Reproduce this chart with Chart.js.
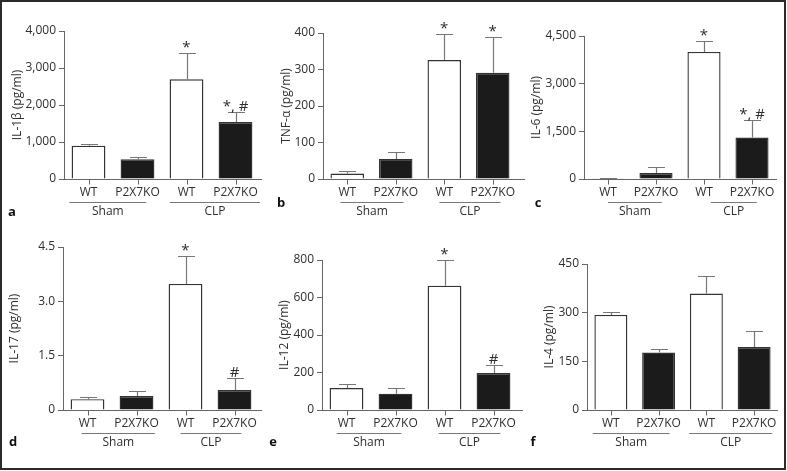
<!DOCTYPE html>
<html>
<head>
<meta charset="utf-8">
<script src="https://cdn.jsdelivr.net/npm/chart.js@4.4.1/dist/chart.umd.min.js"></script>
<style>
  body { margin: 0; background: #fff; }
  #fig { position: relative; width: 787px; height: 471px; }
  #fig canvas { position: absolute; left: 0; top: 0; }
  #frame { position: absolute; left: 0; top: 0; width: 786px; height: 470px; border: 2px solid #2b2b2b; box-sizing: border-box; }
</style>
</head>
<body>
<div id="fig">
  <canvas id="pa" width="787" height="471"></canvas>
  <canvas id="pb" width="787" height="471"></canvas>
  <canvas id="pc" width="787" height="471"></canvas>
  <canvas id="pd" width="787" height="471"></canvas>
  <canvas id="pe" width="787" height="471"></canvas>
  <canvas id="pf" width="787" height="471"></canvas>
  <div id="frame"></div>
</div>
<script>
// categories and groups (same in every panel)
const categories = ['WT', 'P2X7KO', 'WT', 'P2X7KO'];
const groups = ['Sham', 'CLP'];

// a: IL-1β
const il1bMean = [900, 532, 2695, 1540];
const il1bSem = [46, 71, 720, 262];
const il1bSig = ['', '', '*', '*, #'];
const il1bTicks = ['0', '1,000', '2,000', '3,000', '4,000'];

// b: TNF-α
const tnfMean = [15, 55, 326, 291];
const tnfSem = [8, 20, 72, 99];
const tnfSig = ['', '', '*', '*'];
const tnfTicks = ['0', '100', '200', '300', '400'];

// c: IL-6
const il6Mean = [20, 188, 4000, 1304];
const il6Sem = [8, 175, 357, 554];
const il6Sig = ['', '', '*', '*, #'];
const il6Ticks = ['0', '1,500', '3,000', '4,500'];

// d: IL-17
const il17Mean = [0.30, 0.385, 3.48, 0.55];
const il17Sem = [0.057, 0.135, 0.77, 0.32];
const il17Sig = ['', '', '*', '#'];
const il17Ticks = ['0', '1.5', '3.0', '4.5'];

// e: IL-12
const il12Mean = [117, 87, 663, 197];
const il12Sem = [21, 28, 137, 42];
const il12Sig = ['', '', '*', '#'];
const il12Ticks = ['0', '200', '400', '600', '800'];

// f: IL-4
const il4Mean = [293, 177, 359, 194];
const il4Sem = [9, 12, 54, 49];
const il4Sig = ['', '', '', ''];
const il4Ticks = ['0', '150', '300', '450'];

const FONT = '"Open Sans", "DejaVu Sans", sans-serif';
const TXT = '#2e2e2e';
const AXIS = '#666';
const Y_W = 40;

const deco = {
  id: 'deco',
  afterDraw(chart, args, o) {
    const ctx = chart.ctx, a = chart.chartArea, y = chart.scales.y;
    const meta = chart.getDatasetMeta(0);
    const base = Math.round(a.bottom) + 0.5;
    ctx.save();
    // x axis line
    ctx.strokeStyle = AXIS; ctx.lineWidth = 1;
    ctx.beginPath();
    ctx.moveTo(a.left, base);
    ctx.lineTo(o.axisEnd, base);
    ctx.stroke();
    const step = meta.data.length > 1 ? meta.data[1].x - meta.data[0].x : 48;
    meta.data.forEach((bar, i) => {
      // tick below axis
      const bx = Math.round(bar.x) + 0.5;
      ctx.strokeStyle = AXIS; ctx.lineWidth = 1;
      ctx.beginPath(); ctx.moveTo(bx, base); ctx.lineTo(bx, base + 5); ctx.stroke();
      // error bar (upper only)
      const yBar = y.getPixelForValue(o.mean[i]);
      const yTop = Math.round(y.getPixelForValue(o.mean[i] + o.sem[i])) + 0.5;
      ctx.strokeStyle = '#777'; ctx.lineWidth = 1.2;
      ctx.beginPath();
      ctx.moveTo(bx, yBar); ctx.lineTo(bx, yTop);
      ctx.moveTo(bx - 8.5, yTop); ctx.lineTo(bx + 8.5, yTop);
      ctx.stroke();
      // significance marks
      if (o.sig[i]) {
        ctx.fillStyle = TXT; ctx.font = '15px ' + FONT;
        ctx.textAlign = 'center'; ctx.textBaseline = 'alphabetic';
        ctx.fillText(o.sig[i], bar.x, yTop - 2);
      }
      // category label
      ctx.fillStyle = TXT; ctx.font = '12px ' + FONT;
      ctx.textAlign = 'center'; ctx.textBaseline = 'middle';
      ctx.fillText(categories[i], bar.x, o.catY);
    });
    // group lines + labels
    groups.forEach((g, k) => {
      const x0 = meta.data[2 * k].x + o.groupSpan[k][0] * step;
      const x1 = meta.data[2 * k + 1].x + o.groupSpan[k][1] * step;
      ctx.strokeStyle = '#777'; ctx.lineWidth = 1;
      ctx.beginPath(); ctx.moveTo(x0, o.lineY + 0.5); ctx.lineTo(x1, o.lineY + 0.5); ctx.stroke();
      ctx.fillStyle = TXT; ctx.font = '12px ' + FONT;
      ctx.textAlign = 'center'; ctx.textBaseline = 'middle';
      ctx.fillText(g, (x0 + x1) / 2, o.lineY + 10);
    });
    // y title
    ctx.save();
    ctx.translate(o.titleX, (a.top + a.bottom) / 2);
    ctx.rotate(-Math.PI / 2);
    ctx.fillStyle = TXT; ctx.font = '12px ' + FONT;
    ctx.textAlign = 'center'; ctx.textBaseline = 'middle';
    ctx.fillText(o.title, 0, 0);
    ctx.restore();
    // panel letter
    ctx.fillStyle = '#111'; ctx.font = 'bold 13px ' + FONT;
    ctx.textAlign = 'center'; ctx.textBaseline = 'middle';
    ctx.fillText(o.letter, o.letterX, o.letterY);
    ctx.restore();
  }
};

function panel(id, p) {
  new Chart(document.getElementById(id), {
    type: 'bar',
    data: {
      labels: categories,
      datasets: [{
        data: p.mean,
        backgroundColor: ['#ffffff', '#1b1b1b', '#ffffff', '#1b1b1b'],
        borderColor: '#333',
        borderWidth: 1.4,
        borderSkipped: 'start',
        inflateAmount: 0,
        barPercentage: 0.69,
        categoryPercentage: 1
      }]
    },
    options: {
      responsive: false,
      animation: false,
      layout: { padding: { left: p.box[0] - Y_W, top: p.box[1], right: 787 - p.box[2], bottom: 471 - p.box[3] } },
      plugins: {
        legend: { display: false },
        tooltip: { enabled: false },
        deco: {
          mean: p.mean, sem: p.sem, sig: p.sig, title: p.title, letter: p.letter,
          axisEnd: p.axisEnd, titleX: p.titleX, letterX: p.letterX, letterY: p.letterY,
          catY: p.box[3] + 14, lineY: p.box[3] + 23, groupSpan: p.groupSpan
        }
      },
      scales: {
        x: { type: 'category', display: false },
        y: {
          min: 0, max: p.max,
          afterFit: s => { s.width = Y_W; },
          border: { display: true, color: AXIS, width: 1 },
          grid: { display: true, drawOnChartArea: false, drawTicks: true, tickLength: 5, color: AXIS },
          ticks: {
            stepSize: p.step, autoSkip: false, padding: 3, color: TXT,
            font: { family: FONT, size: 12 },
            callback: (v, i) => p.ticks[i]
          }
        }
      }
    },
    plugins: [deco]
  });
}

panel('pa', { mean: il1bMean, sem: il1bSem, sig: il1bSig, ticks: il1bTicks, max: 4000, step: 1000,
  title: 'IL-1β (pg/ml)', letter: 'a', box: [64, 31, 260, 179], axisEnd: 262,
  titleX: 18, letterX: 12, letterY: 212, groupSpan: [[-0.39, 0.18], [-0.34, 0.5]] });
panel('pb', { mean: tnfMean, sem: tnfSem, sig: tnfSig, ticks: tnfTicks, max: 400, step: 100,
  title: 'TNF-α (pg/ml)', letter: 'b', box: [323, 33, 517, 179], axisEnd: 525,
  titleX: 287, letterX: 281, letterY: 203, groupSpan: [[-0.14, 0.16], [-0.1, 0.16]] });
panel('pc', { mean: il6Mean, sem: il6Sem, sig: il6Sig, ticks: il6Ticks, max: 4500, step: 1500,
  title: 'IL-6 (pg/ml)', letter: 'c', box: [584, 36, 776, 179], axisEnd: 777,
  titleX: 537, letterX: 538, letterY: 203, groupSpan: [[0.0, 0.12], [0.14, 0.1]] });
panel('pd', { mean: il17Mean, sem: il17Sem, sig: il17Sig, ticks: il17Ticks, max: 4.5, step: 1.5,
  title: 'IL-17 (pg/ml)', letter: 'd', box: [63, 247, 259, 410], axisEnd: 262,
  titleX: 15, letterX: 13, letterY: 442, groupSpan: [[-0.12, 0.38], [-0.1, 0.14]] });
panel('pe', { mean: il12Mean, sem: il12Sem, sig: il12Sig, ticks: il12Ticks, max: 800, step: 200,
  title: 'IL-12 (pg/ml)', letter: 'e', box: [322, 260, 518, 410], axisEnd: 523,
  titleX: 285, letterX: 273, letterY: 442, groupSpan: [[-0.2, 0.12], [-0.12, 0.14]] });
panel('pf', { mean: il4Mean, sem: il4Sem, sig: il4Sig, ticks: il4Ticks, max: 450, step: 150,
  title: 'IL-4 (pg/ml)', letter: 'f', box: [587, 264, 778, 410], axisEnd: 778,
  titleX: 550, letterX: 533, letterY: 442, groupSpan: [[-0.38, 0.23], [-0.36, 0.38]] });
</script>
</body>
</html>
